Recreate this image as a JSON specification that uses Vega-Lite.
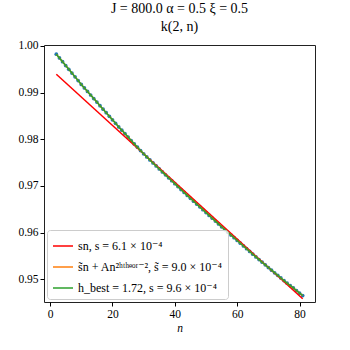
{
  "$schema": "https://vega.github.io/schema/vega-lite/v6.json",
  "width": 271,
  "height": 257,
  "autosize": {"type": "none"},
  "padding": {"left": 44, "top": 45, "right": 35, "bottom": 48},
  "title": {"text": ["J = 800.0  α = 0.5  ξ = 0.5", "k(2, n)"], "font": "Liberation Serif, DejaVu Serif, serif", "fontSize": 14, "fontWeight": "normal", "lineHeight": 18, "offset": 6, "anchor": "middle", "color": "black"},
  "config": {
    "font": "Liberation Serif, DejaVu Serif, serif",
    "style": {"guide-label": {"font": "Liberation Serif, DejaVu Serif, serif"}, "guide-title": {"font": "Liberation Serif, DejaVu Serif, serif"}},
    "view": {"stroke": "#222222", "strokeWidth": 1},
    "axis": {"domain": false, "grid": false, "ticks": true, "tickColor": "black", "tickSize": 4, "labelFont": "Liberation Serif, DejaVu Serif, serif", "labelFontSize": 11.5, "labelColor": "black", "labelPadding": 2, "titleFont": "Liberation Serif, DejaVu Serif, serif", "titleFontSize": 11.5, "titleFontWeight": "normal", "titleColor": "black"},
    "legend": {"orient": "bottom-left", "offset": 3, "padding": 5, "strokeColor": "#cccccc", "fillColor": "rgba(255,255,255,0.8)", "cornerRadius": 3, "labelFont": "Liberation Serif, DejaVu Serif, serif", "labelFontSize": 12, "labelColor": "black", "symbolType": "stroke", "symbolSize": 400, "symbolStrokeWidth": 1.5, "rowPadding": 4, "labelLimit": 300}
  },
  "datasets": {
    "kdata": [
      {"n":2,"k":0.99823},{"n":3,"k":0.99742},{"n":4,"k":0.99661},{"n":5,"k":0.99580},{"n":6,"k":0.99499},
      {"n":7,"k":0.99418},{"n":8,"k":0.99337},{"n":9,"k":0.99257},{"n":10,"k":0.99175},{"n":11,"k":0.99100},
      {"n":12,"k":0.99024},{"n":13,"k":0.98948},{"n":14,"k":0.98872},{"n":15,"k":0.98796},{"n":16,"k":0.98720},
      {"n":17,"k":0.98644},{"n":18,"k":0.98568},{"n":19,"k":0.98492},{"n":20,"k":0.98416},{"n":21,"k":0.98340},
      {"n":22,"k":0.98264},{"n":23,"k":0.98193},{"n":24,"k":0.98122},{"n":25,"k":0.98046},{"n":26,"k":0.97970},
      {"n":27,"k":0.97900},{"n":28,"k":0.97829},{"n":29,"k":0.97758},{"n":30,"k":0.97687},{"n":31,"k":0.97621},
      {"n":32,"k":0.97555},{"n":33,"k":0.97491},{"n":34,"k":0.97426},{"n":35,"k":0.97362},{"n":36,"k":0.97299},
      {"n":37,"k":0.97236},{"n":38,"k":0.97173},{"n":39,"k":0.97110},{"n":40,"k":0.97047},{"n":41,"k":0.96984},
      {"n":42,"k":0.96921},{"n":43,"k":0.96859},{"n":44,"k":0.96796},{"n":45,"k":0.96733},{"n":46,"k":0.96672},
      {"n":47,"k":0.96611},{"n":48,"k":0.96550},{"n":49,"k":0.96489},{"n":50,"k":0.96428},{"n":51,"k":0.96367},
      {"n":52,"k":0.96306},{"n":53,"k":0.96245},{"n":54,"k":0.96184},{"n":55,"k":0.96123},{"n":56,"k":0.96064},
      {"n":57,"k":0.96005},{"n":58,"k":0.95946},{"n":59,"k":0.95888},{"n":60,"k":0.95829},{"n":61,"k":0.95770},
      {"n":62,"k":0.95711},{"n":63,"k":0.95652},{"n":64,"k":0.95593},{"n":65,"k":0.95534},{"n":66,"k":0.95477},
      {"n":67,"k":0.95420},{"n":68,"k":0.95363},{"n":69,"k":0.95306},{"n":70,"k":0.95249},{"n":71,"k":0.95193},
      {"n":72,"k":0.95137},{"n":73,"k":0.95081},{"n":74,"k":0.95025},{"n":75,"k":0.94969},{"n":76,"k":0.94913},
      {"n":77,"k":0.94863},{"n":78,"k":0.94812},{"n":79,"k":0.94756},{"n":80,"k":0.94700},{"n":81,"k":0.94649}
    ],
    "linfit": [{"n":2,"k":0.99393},{"n":81,"k":0.94579}]
  },
  "encoding": {
    "x": {"field": "n", "type": "quantitative", "scale": {"domain": [-1.95, 84.95], "nice": false, "zero": false}, "axis": {"values": [0, 20, 40, 60, 80], "title": "n", "titleFontStyle": "italic", "titlePadding": 3}},
    "y": {"field": "k", "type": "quantitative", "scale": {"domain": [0.9451, 1.0002], "nice": false, "zero": false}, "axis": {"values": [0.95, 0.96, 0.97, 0.98, 0.99, 1.0], "format": ".2f", "title": null}}
  },
  "layer": [
    {"data": {"name": "kdata"}, "mark": {"type": "point", "filled": true, "shape": "circle", "size": 14, "color": "#1f77b4", "opacity": 1}},
    {"data": {"name": "linfit"}, "mark": {"type": "line", "strokeWidth": 1.5},
     "encoding": {"color": {"datum": "sn, s = 6.1 × 10⁻⁴", "type": "nominal", "scale": {"domain": ["sn, s = 6.1 × 10⁻⁴", "s̃n + An²ʰᵗʰᵉᵒʳ⁻², s̃ = 9.0 × 10⁻⁴", "h_best = 1.72, s = 9.6 × 10⁻⁴"], "range": ["#ff0000", "#ff7f0e", "#2ca02c"]}, "legend": {"title": null}}}},
    {"data": {"name": "kdata"}, "mark": {"type": "line", "strokeWidth": 1.5},
     "encoding": {"color": {"datum": "s̃n + An²ʰᵗʰᵉᵒʳ⁻², s̃ = 9.0 × 10⁻⁴", "type": "nominal"}}},
    {"data": {"name": "kdata"}, "mark": {"type": "line", "strokeWidth": 1.5},
     "encoding": {"color": {"datum": "h_best = 1.72, s = 9.6 × 10⁻⁴", "type": "nominal"}}}
  ]
}
